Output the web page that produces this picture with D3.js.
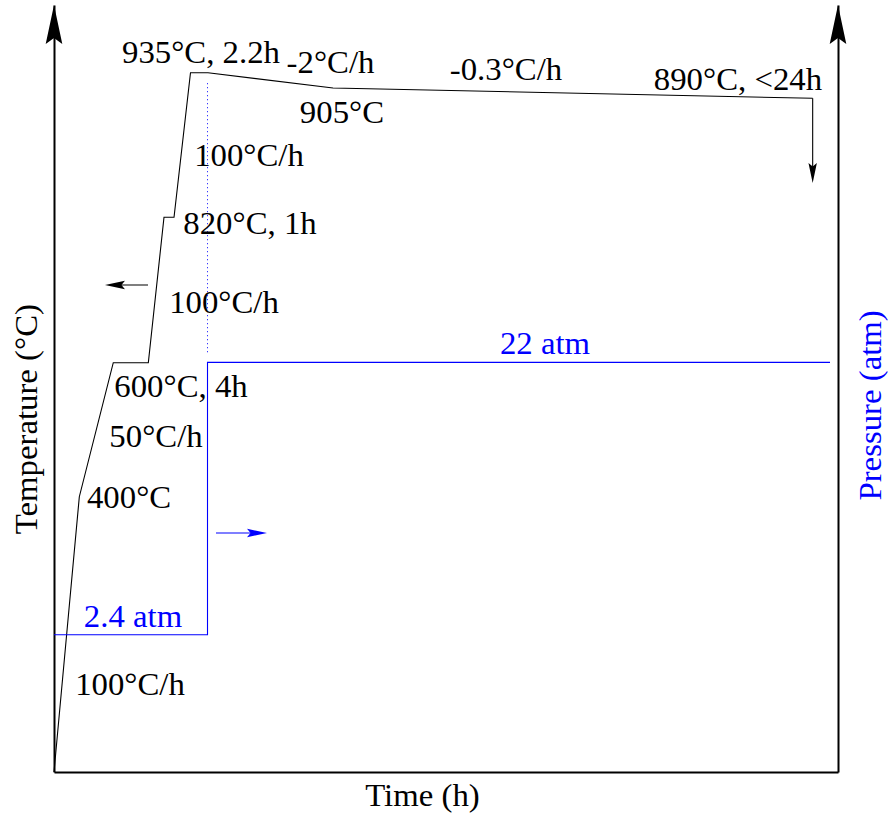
<!DOCTYPE html>
<html>
<head>
<meta charset="utf-8">
<script src="https://cdn.jsdelivr.net/npm/d3@7"></script>
<style>
  html, body { margin: 0; padding: 0; background: #fff; }
  svg { display: block; }
</style>
</head>
<body>
<svg id="chart" width="888" height="814"></svg>
<script>
// ---- Data (schematic units: time 0-100 across the axis, level 0-100 up the axis) ----
const tempTime  = [0, 3.23, 7.56, 12.03, 14.03, 15.31, 17.41, 19.64, 35.59, 96.77];
const tempLevel = [0, 35.89, 53.36, 53.36, 72.32, 72.32, 91.17, 91.17, 89.18, 87.84];
const coolEndLevel = 76.79;               // end of the furnace-cool arrow

const pressTime  = [0, 19.58, 19.58, 98.98];
const pressLevel = [17.9, 17.9, 53.4, 53.4];

const tempLabels = ["935°C, 2.2h", "-2°C/h", "-0.3°C/h", "890°C, <24h", "905°C",
                    "100°C/h", "820°C, 1h", "100°C/h", "600°C, 4h", "50°C/h", "400°C", "100°C/h"];
const tempLabelX = [18.75, 35.27, 57.65, 87.24, 36.73, 24.87, 25.0, 21.68, 16.2, 13.01, 9.57, 9.69];
const tempLabelY = [92.44, 91.13, 90.22, 88.92, 84.62, 78.96, 70.08, 59.84, 48.89, 42.37, 34.42, 10.04];

const pressLabels = ["2.4 atm", "22 atm"];
const pressLabelX = [10.08, 62.63];
const pressLabelY = [18.9, 54.5];

const xTitle = "Time (h)", yTitle = "Temperature (°C)", y2Title = "Pressure (atm)";

// ---- Font choice: first installed serif face ----
const ctx = document.createElement("canvas").getContext("2d");
function widthIn(fam, s) { ctx.font = `31px ${fam}`; return ctx.measureText(s).width; }
const probe = "935°C, 2.2h Temperature (atm) mwiIl";
const serifCandidates = ["Liberation Serif", "DejaVu Serif", "Noto Serif", "Times New Roman"];
let chosen = null;
for (const f of serifCandidates) {
  if (Math.abs(widthIn(`"${f}", monospace`, probe) - widthIn("monospace", probe)) > 0.5) { chosen = f; break; }
}
const FONT = chosen ? `"${chosen}", serif` : "serif";
// horizontal stretch so text widths follow the reference's Computer Modern metrics
const sx = 158 / widthIn(FONT, "935°C, 2.2h");

// ---- Layout ----
const svg = d3.select("#chart");
const plotL = 54, plotR = 838, plotT = 5, plotB = 772;
const BLUE = "#0000ff";
const x  = d3.scaleLinear().domain([0, 100]).range([plotL, plotR]);
const yT = d3.scaleLinear().domain([0, 100]).range([plotB, plotT]);
const yP = d3.scaleLinear().domain([0, 100]).range([plotB, plotT]);

// axes (no ticks)
svg.append("g").attr("transform", `translate(${plotL},0)`)
  .call(d3.axisLeft(yT).tickValues([]).tickSizeOuter(0))
  .select(".domain").attr("stroke", "#000").attr("stroke-width", 2);
svg.append("g").attr("transform", `translate(${plotR},0)`)
  .call(d3.axisRight(yP).tickValues([]).tickSizeOuter(0))
  .select(".domain").attr("stroke", "#000").attr("stroke-width", 2);
svg.append("g").attr("transform", `translate(0,${plotB})`)
  .call(d3.axisBottom(x).tickValues([]).tickSizeOuter(0))
  .select(".domain").attr("stroke", "#000").attr("stroke-width", 2);

// stealth arrow head: tip (tx,ty), direction angle (radians), length L, half width W, notch N
function arrowHead(tx, ty, ang, L, W, N, color) {
  const c = Math.cos(ang), s = Math.sin(ang);
  const pt = (a, b) => [tx + a * c - b * s, ty + a * s + b * c];
  const p = [pt(0, 0), pt(-L, W), pt(-L + N, 0), pt(-L, -W)];
  svg.append("path").attr("d", "M" + p.map(q => q.join(",")).join("L") + "Z")
    .attr("fill", color).attr("stroke", "none");
}
arrowHead(x(0), yT(100), -Math.PI / 2, 39, 8.3, 6, "#000");
arrowHead(x(100), yP(100), -Math.PI / 2, 39, 8.3, 6, "#000");

// temperature profile
const tempPts = tempTime.map((t, i) => [t, tempLevel[i]]);
const line = d3.line().x(d => x(d[0])).y(d => yT(d[1]));
svg.append("path").datum(tempPts).attr("d", line)
  .attr("fill", "none").attr("stroke", "#000").attr("stroke-width", 1.1);
// cooling arrow
const lastT = tempTime[tempTime.length - 1];
svg.append("line")
  .attr("x1", x(lastT)).attr("y1", yT(tempLevel[tempLevel.length - 1]))
  .attr("x2", x(lastT)).attr("y2", yT(coolEndLevel) - 8)
  .attr("stroke", "#000").attr("stroke-width", 1.1);
arrowHead(x(lastT), yT(coolEndLevel), Math.PI / 2, 20, 4.2, 3.5, "#000");

// pressure profile
const pressPts = pressTime.map((t, i) => [t, pressLevel[i]]);
const pline = d3.line().x(d => x(d[0])).y(d => yP(d[1]));
svg.append("path").datum(pressPts).attr("d", pline)
  .attr("fill", "none").attr("stroke", BLUE).attr("stroke-width", 1.1);

// dotted guide at the pressure step
svg.append("line")
  .attr("x1", x(pressTime[1])).attr("x2", x(pressTime[1]))
  .attr("y1", yT(89.8)).attr("y2", yT(54.6))
  .attr("stroke", BLUE).attr("stroke-width", 1).attr("stroke-dasharray", "1,3");

// axis-pointing arrows
svg.append("line").attr("x1", x(11.99)).attr("x2", x(6.5) + 8)
  .attr("y1", yT(63.5)).attr("y2", yT(63.5)).attr("stroke", "#000").attr("stroke-width", 1.1);
arrowHead(x(6.5), yT(63.5), Math.PI, 20, 4.2, 3.5, "#000");
svg.append("line").attr("x1", x(20.66)).attr("x2", x(27.17) - 8)
  .attr("y1", yP(31.16)).attr("y2", yP(31.16)).attr("stroke", BLUE).attr("stroke-width", 1.1);
arrowHead(x(27.17), yP(31.16), 0, 20, 4.2, 3.5, BLUE);

// labels
function label(txt, px, py, color, rot) {
  svg.append("text")
    .attr("transform", `translate(${px},${py})${rot ? " rotate(-90)" : ""} scale(${sx},1)`)
    .attr("text-anchor", "middle").attr("fill", color)
    .style("font-family", FONT).style("font-size", "31px").text(txt);
}
tempLabels.forEach((t, i) => label(t, x(tempLabelX[i]), yT(tempLabelY[i]), "#000"));
pressLabels.forEach((t, i) => label(t, x(pressLabelX[i]), yP(pressLabelY[i]), BLUE));

// axis titles
label(xTitle, x(47.0), plotB + 34, "#000");
label(yTitle, 37, yT(46.0), "#000", true);
label(y2Title, 881, yP(47.8), BLUE, true);
</script>
</body>
</html>
